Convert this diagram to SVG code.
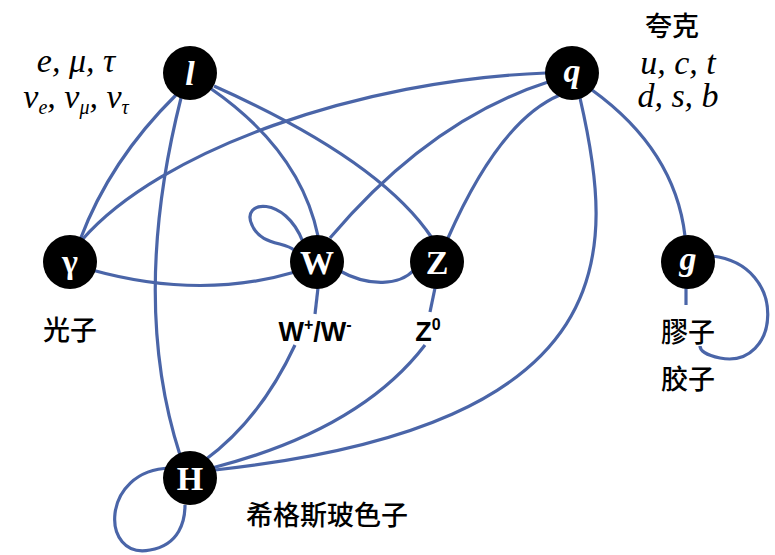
<svg xmlns="http://www.w3.org/2000/svg" width="775" height="555" viewBox="0 0 775 555">
<style>
.e{fill:none;stroke:#4a65a8;stroke-width:3.2}
.n{fill:#000}
.nl{fill:#fff;font-family:"Liberation Serif",serif;font-weight:bold;font-size:34px;text-anchor:middle}
.cj{font-family:"Noto Sans CJK SC",sans-serif;font-weight:500;font-size:27px;text-anchor:middle;fill:#000}
.m{font-family:"Liberation Serif",serif;font-style:italic;font-size:34px;text-anchor:middle;fill:#000}
.lb{font-family:"Liberation Sans",sans-serif;font-weight:bold;font-size:27px;text-anchor:middle;fill:#000}
</style>
<rect width="775" height="555" fill="#fff"/>
<g id="edges">
<path class="e" d="M176,95 Q110,160 80,240"/>
<path class="e" d="M181,98 Q130,300 180,455"/>
<path class="e" d="M210,88 Q300,150 318,236"/>
<path class="e" d="M214,86 Q380,160 432,238"/>
<path class="e" d="M82,240 C160,150 360,80 546,73"/>
<path class="e" d="M92,270 Q200,300 295,272"/>
<path class="e" d="M303,242 C285,195 240,200 252,225 C260,245 285,242 294,250"/>
<path class="e" d="M338,270 C370,288 400,285 414,270"/>
<path class="e" d="M330,238 Q430,120 548,82"/>
<path class="e" d="M448,238 Q500,120 560,95"/>
<path class="e" d="M580,98 C615,250 630,425 215,470"/>
<path class="e" d="M592,90 Q675,150 685,236"/>
<path class="e" d="M686,288 L686,305"/>
<path class="e" d="M712,256 C790,265 780,370 720,358 C705,355 700,350 700,346"/>
<path class="e" d="M318,288 L315,314"/>
<path class="e" d="M295,345 Q260,420 205,460"/>
<path class="e" d="M435,288 L430,312"/>
<path class="e" d="M425,345 Q360,430 212,468"/>
<path class="e" d="M170,468 C100,470 100,560 150,550 C180,545 185,520 185,505"/>
</g>
<g id="l"><circle class="n" cx="190" cy="73" r="27"/><text class="nl" x="190" y="85" font-style="italic">l</text></g>
<g id="q"><circle class="n" cx="572" cy="73" r="27"/><text class="nl" x="572" y="82" font-style="italic">q</text></g>
<g id="gamma"><circle class="n" cx="70" cy="262" r="27"/><text class="nl" x="70" y="273">γ</text></g>
<g id="W"><circle class="n" cx="317" cy="262" r="27"/><text class="nl" x="317" y="274">W</text></g>
<g id="Z"><circle class="n" cx="437" cy="262" r="27"/><text class="nl" x="437" y="274">Z</text></g>
<g id="g"><circle class="n" cx="688" cy="262" r="27"/><text class="nl" x="688" y="270" font-style="italic">g</text></g>
<g id="H"><circle class="n" cx="190" cy="478" r="27"/><text class="nl" x="190" y="490">H</text></g>
<g id="labels">
<text class="m" x="76" y="72">e, μ, τ</text>
<text class="m" x="76" y="108">ν<tspan font-size="20" dy="6">e</tspan><tspan dy="-6">, ν</tspan><tspan font-size="20" dy="6">μ</tspan><tspan dy="-6">, ν</tspan><tspan font-size="20" dy="6">τ</tspan></text>
<text class="cj" x="672" y="36">夸克</text>
<text class="m" x="678" y="74">u, c, t</text>
<text class="m" x="678" y="107">d, s, b</text>
<text class="cj" x="70" y="340">光子</text>
<text class="lb" x="315" y="341">W<tspan font-size="16" dy="-11">+</tspan><tspan dy="11">/W</tspan><tspan font-size="16" dy="-11">-</tspan></text>
<text class="lb" x="428" y="341">Z<tspan font-size="16" dy="-11">0</tspan></text>
<text class="cj" x="688" y="342">膠子</text>
<text class="cj" x="688" y="389">胶子</text>
<text class="cj" x="327" y="525">希格斯玻色子</text>
</g>
</svg>
